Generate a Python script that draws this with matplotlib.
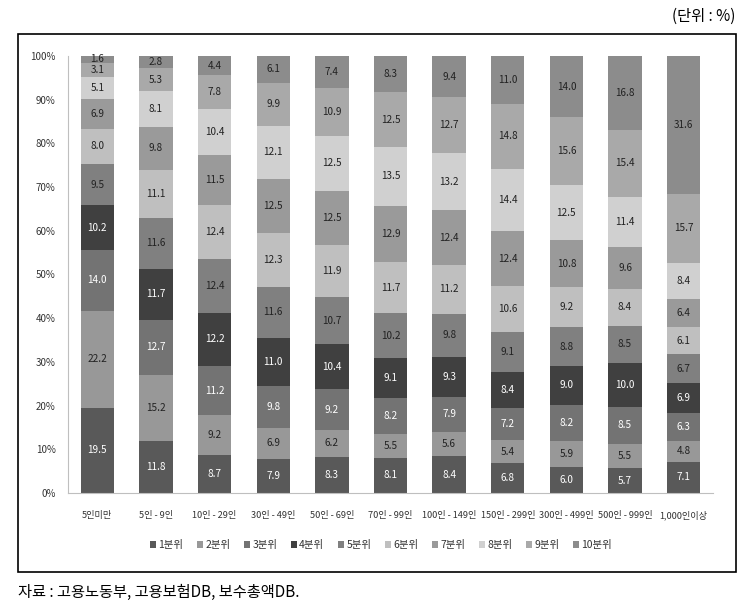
import matplotlib
matplotlib.use("Agg")
import matplotlib.pyplot as plt
import numpy as np
from matplotlib.patches import Rectangle, Patch

plt.rcParams['font.family'] = ['Noto Sans CJK KR', 'DejaVu Sans']

categories = ['5인미만', '5인 - 9인', '10인 - 29인', '30인 - 49인', '50인 - 69인',
              '70인 - 99인', '100인 - 149인', '150인 - 299인', '300인 - 499인',
              '500인 - 999인', '1,000인이상']
series_names = ['1분위', '2분위', '3분위', '4분위', '5분위',
                '6분위', '7분위', '8분위', '9분위', '10분위']

d1 = [19.5, 11.8, 8.7, 7.9, 8.3, 8.1, 8.4, 6.8, 6.0, 5.7, 7.1]
d2 = [22.2, 15.2, 9.2, 6.9, 6.2, 5.5, 5.6, 5.4, 5.9, 5.5, 4.8]
d3 = [14.0, 12.7, 11.2, 9.8, 9.2, 8.2, 7.9, 7.2, 8.2, 8.5, 6.3]
d4 = [10.2, 11.7, 12.2, 11.0, 10.4, 9.1, 9.3, 8.4, 9.0, 10.0, 6.9]
d5 = [9.5, 11.6, 12.4, 11.6, 10.7, 10.2, 9.8, 9.1, 8.8, 8.5, 6.7]
d6 = [8.0, 11.1, 12.4, 12.3, 11.9, 11.7, 11.2, 10.6, 9.2, 8.4, 6.1]
d7 = [6.9, 9.8, 11.5, 12.5, 12.5, 12.9, 12.4, 12.4, 10.8, 9.6, 6.4]
d8 = [5.1, 8.1, 10.4, 12.1, 12.5, 13.5, 13.2, 14.4, 12.5, 11.4, 8.4]
d9 = [3.1, 5.3, 7.8, 9.9, 10.9, 12.5, 12.7, 14.8, 15.6, 15.4, 15.7]
d10 = [1.6, 2.8, 4.4, 6.1, 7.4, 8.3, 9.4, 11.0, 14.0, 16.8, 31.6]

series = [d1, d2, d3, d4, d5, d6, d7, d8, d9, d10]
colors = ['#595959', '#989898', '#737373', '#404040', '#808080',
          '#bfbfbf', '#9a9a9a', '#d0d0d0', '#a9a9a9', '#8c8c8c']
text_colors = ['white', '#222222', 'white', 'white', '#222222',
               '#222222', '#222222', '#222222', '#222222', '#222222']

fig = plt.figure(figsize=(7.5, 6.11), dpi=100)
W, H = 750, 611

# outer frame
fig.patches.append(Rectangle((18 / W, 1 - 572 / H), (736 - 18) / W, (572 - 34) / H,
                             transform=fig.transFigure, fill=False,
                             edgecolor='black', linewidth=1.2))

ax = fig.add_axes([68 / W, 1 - 493 / H, (713 - 68) / W, (493 - 56) / H])

data = np.array(series)
totals = data.sum(axis=0)
pct = data / totals * 100
x = np.arange(len(categories))
bottom = np.zeros(len(categories))
for i, name in enumerate(series_names):
    ax.bar(x, pct[i], 0.57, bottom=bottom, color=colors[i], label=name,
           linewidth=0)
    for j in range(len(categories)):
        ax.text(x[j], bottom[j] + pct[i][j] / 2, f'{data[i][j]:.1f}',
                ha='center', va='center', fontsize=7.2,
                color=text_colors[i])
    bottom += pct[i]

ax.set_xlim(-0.5, len(categories) - 0.5)
ax.set_ylim(0, 100)
ax.set_yticks(np.arange(0, 101, 10))
ax.set_yticklabels([f'{v}%' for v in range(0, 101, 10)], fontsize=7, color='#333333')
ax.set_xticks(x)
ax.set_xticklabels(categories, fontsize=6.6, color='#333333')
ax.tick_params(axis='both', length=0)
ax.tick_params(axis='x', pad=13)
ax.tick_params(axis='y', pad=9)
for s in ['top', 'right']:
    ax.spines[s].set_visible(False)
ax.spines['left'].set_color('#bfbfbf')
ax.spines['bottom'].set_color('#bfbfbf')

handles = [Patch(facecolor=c, edgecolor='none') for c in colors]
fig.legend(handles, series_names, loc='center', bbox_to_anchor=(0.508, 1 - 545 / H),
           ncol=10, frameon=False, fontsize=7.5, handlelength=0.6, handleheight=0.6,
           handletextpad=0.2, columnspacing=1.3, labelcolor='#333333')

fig.text(735 / W, 1 - 16 / H, '(단위 : %)', ha='right', va='center', fontsize=11)
fig.text(18 / W, 1 - 592 / H, '자료 : 고용노동부, 고용보험DB, 보수총액DB.',
         ha='left', va='center', fontsize=11)

fig.savefig('out.png', dpi=100)
